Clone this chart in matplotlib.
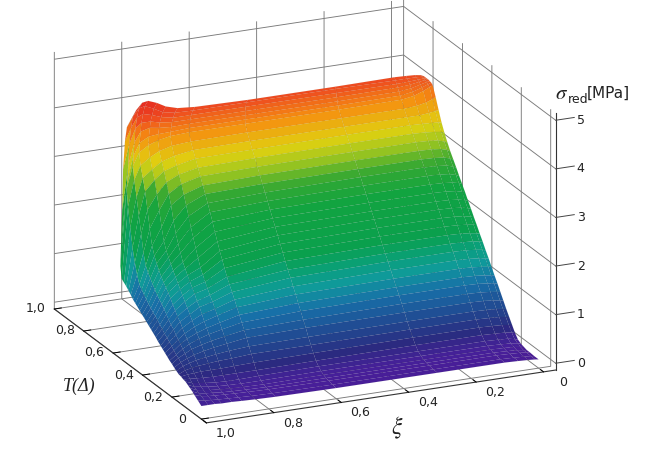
import numpy as np
import matplotlib
matplotlib.use("Agg")
import matplotlib.pyplot as plt
from matplotlib.colors import LinearSegmentedColormap
from mpl_toolkits.mplot3d import Axes3D, proj3d

plt.rcParams['mathtext.fontset'] = 'stix'

# rows of the surface
t_rows = [0, .03, .06, .08, .10, .12, .14, .16, .18, .20, .22, .24, .26, .28, .30, .32, .34, .36, .38, .40, .42,
          .44, .46, .48, .50, .52, .54, .56, .58, .60, .62, .64, .66, .68, .70, .72, .73, .74, .75, .76, .77, .78]
# how far in xi each row reaches (left silhouette)
xi_reach = [1.0, .997, .994, .992, .990, .988, .986, .984, .982, .980, .978, .976, .974, .972, .970, .968, .966,
            .964, .963, .961, .959, .957, .955, .953, .951, .949, .947, .945, .943, .941, .939, .937, .935, .933,
            .931, .926, .920, .912, .905, .895, .885, .870]
# column positions, as a fraction of xi_reach
xi_frac = [0, .01, .03, .06, .1, .3, .6, .78, .84, .88, .91, .94, .96, .98, 1.0]

sigma = [
    [.04, .05, .06, .07, .08, .08, .08, .09, .10, .11, .12, .12, .13, .13, .13],
    [.04, .05, .06, .07, .08, .08, .08, .09, .10, .11, .12, .13, .14, .15, .17],
    [.05, .06, .07, .08, .09, .09, .09, .10, .11, .12, .13, .14, .15, .17, .21],
    [.05, .06, .08, .09, .10, .10, .10, .10, .11, .12, .13, .15, .16, .18, .24],
    [.07, .08, .10, .11, .12, .12, .12, .11, .12, .13, .14, .16, .18, .20, .26],
    [.09, .11, .13, .14, .15, .15, .15, .14, .14, .15, .16, .18, .20, .22, .28],
    [.13, .15, .18, .19, .20, .20, .20, .19, .18, .18, .19, .21, .23, .25, .30],
    [.22, .24, .26, .27, .28, .28, .27, .26, .26, .26, .26, .27, .28, .29, .30],
    [.34, .35, .37, .38, .39, .39, .38, .37, .36, .35, .35, .35, .34, .33, .31],
    [.46, .47, .49, .50, .51, .51, .50, .50, .47, .46, .44, .42, .40, .37, .31],
    [.58, .59, .61, .62, .63, .63, .62, .61, .58, .55, .52, .49, .45, .41, .33],
    [.71, .72, .74, .76, .77, .77, .76, .74, .68, .64, .60, .55, .50, .44, .35],
    [.84, .85, .87, .89, .90, .90, .88, .85, .78, .73, .68, .62, .55, .48, .38],
    [.97, .98, 1.00, 1.02, 1.03, 1.03, 1.01, .96, .88, .82, .76, .68, .60, .50, .40],
    [1.09, 1.10, 1.12, 1.14, 1.15, 1.15, 1.13, 1.07, .97, .90, .83, .74, .65, .54, .43],
    [1.22, 1.23, 1.25, 1.27, 1.28, 1.28, 1.26, 1.18, 1.07, .99, .91, .80, .70, .58, .46],
    [1.35, 1.36, 1.38, 1.40, 1.41, 1.41, 1.38, 1.29, 1.16, 1.09, .99, .87, .75, .62, .49],
    [1.47, 1.49, 1.51, 1.53, 1.54, 1.54, 1.51, 1.40, 1.26, 1.19, 1.07, .95, .81, .66, .52],
    [1.60, 1.61, 1.64, 1.65, 1.66, 1.66, 1.63, 1.51, 1.35, 1.27, 1.16, 1.01, .86, .70, .56],
    [1.72, 1.74, 1.76, 1.78, 1.79, 1.79, 1.76, 1.62, 1.44, 1.37, 1.24, 1.09, .92, .75, .60],
    [1.85, 1.87, 1.89, 1.91, 1.92, 1.92, 1.89, 1.75, 1.53, 1.45, 1.32, 1.16, .98, .79, .63],
    [1.97, 1.99, 2.02, 2.04, 2.05, 2.05, 2.02, 1.88, 1.63, 1.53, 1.40, 1.24, 1.04, .83, .66],
    [2.10, 2.12, 2.15, 2.17, 2.18, 2.18, 2.15, 2.01, 1.73, 1.61, 1.48, 1.31, 1.10, .87, .69],
    [2.22, 2.24, 2.27, 2.29, 2.30, 2.30, 2.28, 2.16, 1.88, 1.70, 1.56, 1.37, 1.14, .90, .72],
    [2.35, 2.37, 2.40, 2.42, 2.43, 2.43, 2.41, 2.31, 2.04, 1.79, 1.64, 1.43, 1.19, .94, .75],
    [2.47, 2.50, 2.53, 2.55, 2.56, 2.56, 2.54, 2.47, 2.20, 1.93, 1.73, 1.50, 1.25, .98, .78],
    [2.59, 2.62, 2.66, 2.68, 2.69, 2.69, 2.67, 2.62, 2.37, 2.07, 1.82, 1.58, 1.32, 1.03, .81],
    [2.72, 2.75, 2.79, 2.81, 2.82, 2.82, 2.80, 2.76, 2.55, 2.24, 1.91, 1.68, 1.39, 1.08, .84],
    [2.84, 2.87, 2.91, 2.93, 2.94, 2.94, 2.93, 2.90, 2.73, 2.45, 2.06, 1.79, 1.47, 1.13, .87],
    [2.96, 3.00, 3.04, 3.06, 3.07, 3.07, 3.06, 3.03, 2.90, 2.72, 2.30, 1.95, 1.56, 1.19, .90],
    [3.10, 3.13, 3.17, 3.19, 3.20, 3.20, 3.19, 3.17, 3.07, 2.91, 2.60, 2.25, 1.78, 1.34, .95],
    [3.25, 3.28, 3.30, 3.32, 3.33, 3.33, 3.32, 3.30, 3.22, 3.10, 2.88, 2.59, 2.12, 1.55, .99],
    [3.42, 3.43, 3.44, 3.45, 3.46, 3.46, 3.45, 3.44, 3.36, 3.28, 3.13, 2.92, 2.45, 1.80, 1.03],
    [3.63, 3.62, 3.60, 3.58, 3.58, 3.58, 3.58, 3.57, 3.51, 3.43, 3.30, 3.15, 2.78, 2.18, 1.06],
    [3.85, 3.82, 3.77, 3.73, 3.71, 3.71, 3.71, 3.70, 3.67, 3.60, 3.50, 3.36, 3.08, 2.55, 1.09],
    [4.05, 4.02, 3.96, 3.89, 3.85, 3.84, 3.84, 3.84, 3.82, 3.77, 3.70, 3.58, 3.32, 2.88, 1.30],
    [4.08, 4.06, 4.01, 3.95, 3.91, 3.90, 3.90, 3.90, 3.88, 3.87, 3.85, 3.75, 3.50, 3.00, 1.70],
    [4.09, 4.08, 4.05, 4.00, 3.97, 3.96, 3.96, 3.96, 3.95, 3.97, 4.00, 3.95, 3.75, 3.30, 2.40],
    [4.10, 4.10, 4.08, 4.05, 4.03, 4.02, 4.02, 4.02, 4.02, 4.05, 4.10, 4.10, 4.00, 3.70, 3.20],
    [4.10, 4.11, 4.10, 4.09, 4.08, 4.08, 4.08, 4.08, 4.08, 4.13, 4.20, 4.25, 4.20, 4.00, 3.75],
    [4.10, 4.12, 4.13, 4.13, 4.13, 4.14, 4.14, 4.14, 4.15, 4.20, 4.30, 4.38, 4.35, 4.20, 4.00],
    [4.10, 4.13, 4.15, 4.16, 4.17, 4.16, 4.16, 4.18, 4.21, 4.28, 4.38, 4.45, 4.43, 4.30, 4.10],
]

t_ticks = [0, .2, .4, .6, .8, 1.0]
xi_ticks = [0, .2, .4, .6, .8, 1.0]
z_ticks = [0, 1, 2, 3, 4, 5]
tick_labels = ['0', '0,2', '0,4', '0,6', '0,8', '1,0']

cmap_levels = [0, .1, .31, .70, 1.03, 1.32, 1.56, 1.80, 2.5, 2.86, 3.19, 3.44, 3.83, 4.16, 4.45]
cmap_colors = ['#4b1a92', '#47209a', '#2b2a80', '#1f4f95', '#1770a8', '#0f9a9a', '#0aa078', '#0aa04e',
               '#12a440', '#35a832', '#a5c81e', '#e0d010', '#f59010', '#ee4a20', '#e62a20']
nodes = [v / cmap_levels[-1] for v in cmap_levels]
surf_cmap = LinearSegmentedColormap.from_list('sigma', list(zip(nodes, cmap_colors)))

T_MIN, XI_MIN, Z_MIN = -.034, -.036, -.14

fig = plt.figure(figsize=(6.5, 4.58), dpi=100)
ax = fig.add_axes([6.4 / 650, -51.6 / 458, 581.5 / 650, 581.5 / 458], projection='3d')
ax.set_proj_type('ortho')
ax.view_init(elev=19.66, azim=155.8)
ax.set_box_aspect((371, 383, 273))
ax.patch.set_alpha(0)

X = np.array(t_rows)[:, None] * np.ones((1, len(xi_frac)))
Y = np.outer(xi_reach, xi_frac)
Z = np.array(sigma)
ax.plot_surface(X, Y, Z, rstride=1, cstride=1, cmap=surf_cmap, vmin=0, vmax=cmap_levels[-1],
                shade=False, linewidth=0.2, edgecolor=(0, 0, 0, .1), antialiased=True)

ax.set_xlim(T_MIN, 1)
ax.set_ylim(XI_MIN, 1)
ax.set_zlim(Z_MIN, 5.15)

ax.set_xticks(t_ticks)
ax.set_yticks(xi_ticks)
ax.set_zticks(z_ticks)
ax.zaxis.set_ticks_position('lower')

for axis in (ax.xaxis, ax.yaxis, ax.zaxis):
    axis.set_pane_color((1, 1, 1, 0))
    axis.pane.set_edgecolor((1, 1, 1, 0))
    axis.line.set_color('#333333')
    axis.line.set_linewidth(.8)
    axis.set_tick_params(label1On=False, label2On=False)
    axis._axinfo['grid'].update(color='#7a7a7a', linewidth=.65)
    axis._axinfo['tick'].update(inward_factor=0, outward_factor=.25, linewidth={True: .7, False: .5}, color='#444444')
ax.zaxis._axinfo['tick'].update(outward_factor=0)


def axis_label(px, py, pz, text):
    # tick labels sit beside the axes, so project their spot and write them in 2D
    x2, y2, _ = proj3d.proj_transform(px, py, pz, ax.get_proj())
    ax.text2D(x2, y2, text, transform=ax.transData, ha='center', va='center', fontsize=9, color='#222222')


for t, lab in zip(t_ticks, tick_labels):
    axis_label(t, 1.056, -.08, lab)
for xi, lab in zip(xi_ticks, tick_labels):
    axis_label(-.164, xi, -.06, lab)
for z in z_ticks:
    ax.plot([T_MIN, T_MIN], [XI_MIN, XI_MIN - .055], [z, z], color='#444444', lw=.7)
    axis_label(T_MIN, -.11, z - .08, str(z))

fig.text(63 / 650, 1 - 391 / 458, 'T(Δ)', fontsize=13, family='Liberation Serif', style='italic', color='#222222')
fig.text(391 / 650, 1 - 434 / 458, r'$\xi$', fontsize=17, color='#222222')
fig.text(555 / 650, 1 - 99 / 458, r'$\sigma$', fontsize=15, color='#222222')
fig.text(568 / 650, 1 - 103 / 458, 'red', fontsize=9, color='#222222')
fig.text(587 / 650, 1 - 98 / 458, '[MPa]', fontsize=11, color='#222222')

fig.savefig('out.png', dpi=100)
